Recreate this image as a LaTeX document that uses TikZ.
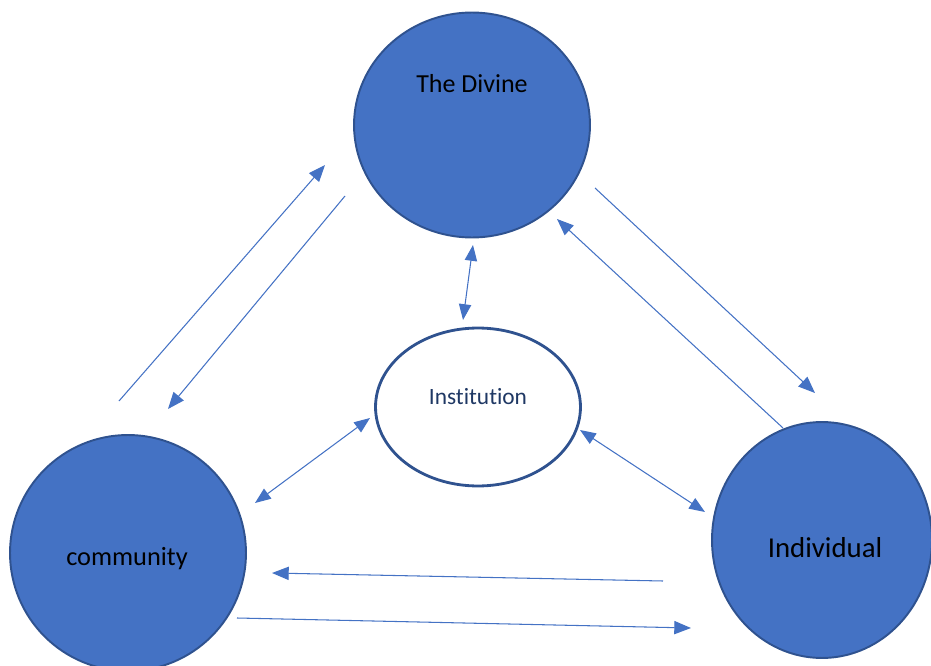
\documentclass[tikz,border=0pt]{standalone}
\usepackage{fontspec}
\setmainfont{Carlito}[Ligatures=NoCommon]
\usetikzlibrary{arrows.meta, shapes.geometric}
\definecolor{officeBlue}{RGB}{68, 114, 196}
\definecolor{edgeBlue}{RGB}{47, 82, 143}
\definecolor{navyText}{RGB}{31, 56, 100}

\tikzset{
  sphere/.style={ellipse, fill=officeBlue, draw=edgeBlue, line width=1.1pt, inner sep=0pt},
  oneway/.style={-{Triangle[length=9.5pt, width=7.5pt]}, officeBlue, line width=0.6pt},
  twoway/.style={{Triangle[length=9pt, width=7pt]}-{Triangle[length=9pt, width=7pt]}, officeBlue, line width=0.6pt},
}

\begin{document}
\begin{tikzpicture}[x=0.02cm, y=-0.02cm]
  \useasboundingbox (0,0) rectangle (931,666);

  % the three blue circles and the institution in the middle
  \node[sphere, minimum width=4.72cm, minimum height=4.5cm] (divine) at (472,125) {};
  \node[sphere, minimum width=4.72cm, minimum height=4.72cm] (community) at (128,553) {};
  \node[sphere, minimum width=4.4cm, minimum height=4.72cm] (individual) at (822,540) {};
  \node[ellipse, draw=edgeBlue, fill=white, line width=1.6pt,
        minimum width=4.1cm, minimum height=3.16cm] (institution) at (478,407) {};

  \node[font=\fontsize{14.8}{17}\selectfont] (divineText) at (472,84) {The Divine};
  \node[font=\fontsize{15}{17}\selectfont] (communityText) at (127,559) {community};
  \node[font=\fontsize{16.4}{19}\selectfont] (individualText) at (825,548) {Individual};
  \node[font=\fontsize{13.3}{16}\selectfont, navyText] (institutionText) at (478,397) {Institution};

  % free ends of the arrows
  \coordinate (cd1) at (119,401);  \coordinate (cd2) at (325,165);
  \coordinate (dc1) at (345,196);  \coordinate (dc2) at (168,409);
  \coordinate (di1) at (595,188);  \coordinate (di2) at (815,393);
  \coordinate (id1) at (783,428);  \coordinate (id2) at (557,219);
  \coordinate (ic1) at (663,581);  \coordinate (ic2) at (272,573);
  \coordinate (ci1) at (237,618);  \coordinate (ci2) at (691,628);
  \coordinate (ns1) at (473,245);  \coordinate (ns2) at (463,320);
  \coordinate (nc1) at (370,418);  \coordinate (nc2) at (255,503);
  \coordinate (ni1) at (580,430);  \coordinate (ni2) at (705,512);

  % one-way arrows between the circles
  \draw[oneway] (cd1) -- (cd2);
  \draw[oneway] (dc1) -- (dc2);
  \draw[oneway] (di1) -- (di2);
  \draw[oneway] (id1) -- (id2);
  \draw[oneway] (ic1) -- (ic2);
  \draw[oneway] (ci1) -- (ci2);

  % two-way arrows to the institution
  \draw[twoway] (ns1) -- (ns2);
  \draw[twoway] (nc1) -- (nc2);
  \draw[twoway] (ni1) -- (ni2);
\end{tikzpicture}
\end{document}
